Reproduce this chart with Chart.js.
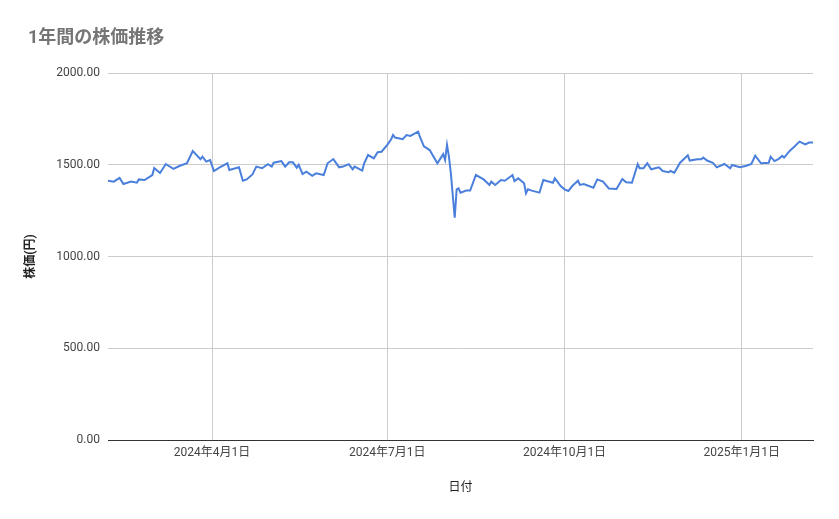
<!DOCTYPE html>
<html><head><meta charset="utf-8">
<script src="https://cdn.jsdelivr.net/npm/chart.js@4"></script>
<style>body{margin:0;background:#fff}</style>
</head><body>
<canvas id="c" width="839" height="519"></canvas>
<script>
const startDate = new Date(2024, 1, 7);
const dayOffsets = [0,3,6,8,12,15,16,19,23,24,27,30,34,37,41,44,48,49,51,53,55,58,62,63,68,70,72,75,77,80,83,85,86,90,92,94,96,98,99,101,103,106,108,112,114,117,120,122,125,127,128,132,133,135,138,140,142,145,147,148,149,153,155,157,161,162,164,167,171,174,175,176,177,178,180,181,182,183,186,188,191,195,198,199,201,204,206,210,211,213,216,217,218,220,224,226,231,232,235,237,239,241,244,245,247,252,254,257,260,264,267,269,272,275,276,278,280,282,286,288,291,292,294,297,301,302,306,308,309,311,314,316,320,323,324,328,331,334,336,339,343,344,346,348,350,351,354,356,359,362,364,366];
const prices = [1413,1408,1428,1395,1408,1402,1420,1417,1444,1482,1455,1504,1478,1493,1508,1575,1530,1544,1517,1526,1466,1486,1508,1471,1486,1413,1420,1447,1490,1481,1503,1490,1511,1520,1490,1513,1513,1484,1499,1449,1462,1440,1453,1444,1508,1531,1486,1490,1503,1475,1490,1468,1508,1553,1535,1568,1571,1608,1639,1662,1648,1639,1662,1657,1680,1650,1600,1580,1508,1558,1526,1608,1544,1453,1211,1366,1371,1348,1359,1359,1444,1420,1390,1408,1390,1417,1413,1444,1411,1426,1399,1344,1366,1359,1348,1417,1402,1426,1384,1366,1357,1384,1413,1390,1395,1375,1420,1408,1371,1368,1422,1404,1402,1503,1481,1481,1508,1475,1486,1466,1459,1466,1457,1511,1551,1523,1530,1530,1539,1523,1511,1486,1504,1481,1499,1486,1493,1504,1550,1508,1511,1544,1520,1530,1548,1539,1577,1595,1626,1611,1621,1621];
const tickDays = [54,145,237,329];
const tickLabels = ['2024年4月1日','2024年7月1日','2024年10月1日','2025年1月1日'];
const yTicks = [0,500,1000,1500,2000];
const FONT = "'Roboto','Noto Sans CJK JP',sans-serif";

const titlePlugin = {id:'t', afterDraw(ch){const c=ch.ctx;c.save();c.font="bold 18px "+FONT;c.fillStyle='#757575';c.textBaseline='middle';c.fillText('1年間の株価推移',28,38);c.restore();}};

new Chart(document.getElementById('c'), {
  type:'line',
  data:{datasets:[{data:dayOffsets.map((d,i)=>({x:d,y:prices[i]})),borderColor:'#4a7fdc',borderWidth:2,pointRadius:0,tension:0,fill:false}]},
  options:{
    responsive:false, animation:false,
    layout:{padding:{left:20,right:26,top:73,bottom:20}},
    plugins:{legend:{display:false},tooltip:{enabled:false}},
    scales:{
      x:{type:'linear',min:0,max:366,
        afterBuildTicks(s){s.ticks=tickDays.map(v=>({value:v}));},
        afterFit(s){s.height=59;},
        ticks:{autoSkip:false,maxRotation:0,color:'#444',font:{family:FONT,size:12},padding:6,
          callback:(v)=>{const i=tickDays.indexOf(v);return i>=0?tickLabels[i]:'';}},
        grid:{color:'#cccccc',drawTicks:false},
        border:{color:'#333333'},
        title:{display:true,text:'日付',color:'#222',font:{family:FONT,size:12},padding:{top:14}}
      },
      y:{min:0,max:2000,
        afterBuildTicks(s){s.ticks=yTicks.map(v=>({value:v}));},
        afterFit(s){s.width=88;},
        ticks:{color:'#444',font:{family:FONT,size:12},padding:8,callback:v=>v.toFixed(2)},
        grid:{color:'#cccccc',drawTicks:false},
        border:{display:false},
        title:{display:true,text:'株価(円)',color:'#222',font:{family:FONT,size:12,weight:'bold'},padding:{bottom:0}}
      }
    }
  },
  plugins:[titlePlugin]
});
</script>
</body></html>
